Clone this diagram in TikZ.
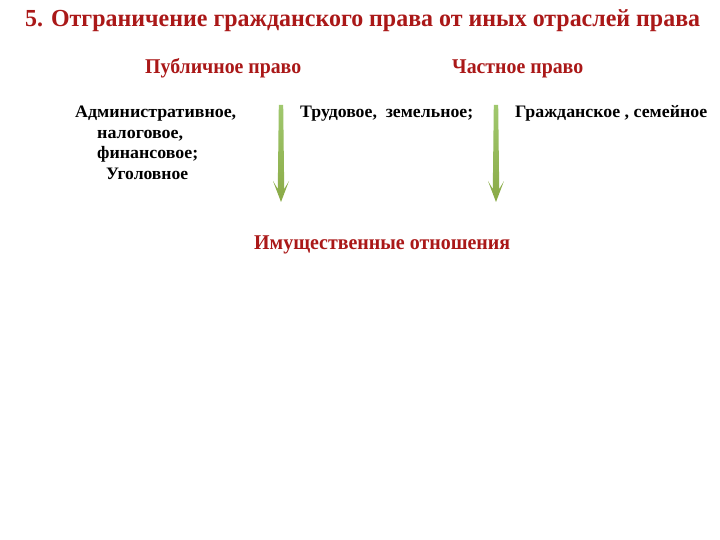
\documentclass[tikz,border=0pt]{standalone}
\usepackage{fontspec}
\usepackage{graphicx}
\setmainfont{Liberation Serif}
\definecolor{darkred}{RGB}{170,24,24}
\definecolor{greentop}{RGB}{160,200,110}
\definecolor{greenbot}{RGB}{138,170,70}
\newcommand\fitw[2]{\resizebox{#1pt}{\height}{#2}}
\tikzset{
  txt/.style={anchor=base west, inner sep=0pt, font=\bfseries},
  redtxt/.style={txt, text=darkred},
  blacktxt/.style={txt, text=black, font=\bfseries\fontsize{17.5}{21}\selectfont},
}
\begin{document}
\begin{tikzpicture}[x=1pt,y=-1pt]
\useasboundingbox[fill=white] (0,0) rectangle (720,540);
% title
\node[redtxt, font=\bfseries\fontsize{24.5}{28}\selectfont] (title) at (25,27)
  {\fitw{675}{5. Отграничение гражданского права от иных отраслей права}};
% subtitles
\node[redtxt, font=\bfseries\fontsize{21}{25}\selectfont] (pub) at (145,74)
  {\fitw{156}{Публичное право}};
\node[redtxt, font=\bfseries\fontsize{21}{25}\selectfont] (priv) at (452,74)
  {\fitw{131}{Частное право}};
% left column
\node[blacktxt] (l1) at (75,118) {\fitw{161}{Административное,}};
\node[blacktxt] (l2) at (97,139) {\fitw{86}{налоговое,}};
\node[blacktxt] (l3) at (97,159) {\fitw{101}{финансовое;}};
\node[blacktxt] (l4) at (106,180) {\fitw{82}{Уголовное}};
% middle and right
\node[blacktxt] (mid) at (300,118) {\fitw{173}{Трудовое,\ \ земельное;}};
\node[blacktxt] (right) at (515,118) {\fitw{192}{Гражданское , семейное}};
% bottom
\node[redtxt, font=\bfseries\fontsize{21}{25}\selectfont] (prop) at (254,250)
  {\fitw{256}{Имущественные отношения}};
% arrows
\coordinate (a1) at (281,105);
\coordinate (a2) at (496,105);
\foreach \c in {a1,a2}{
  \shade[top color=greentop, bottom color=greenbot]
    ([xshift=-2.2]\c) -- ([xshift=2.2]\c) -- ([xshift=3.2,yshift=-84]\c)
    -- ([xshift=8,yshift=-76]\c) -- ([yshift=-97]\c) -- ([xshift=-8,yshift=-76]\c)
    -- ([xshift=-3.2,yshift=-84]\c) -- cycle;
}
\end{tikzpicture}
\end{document}
